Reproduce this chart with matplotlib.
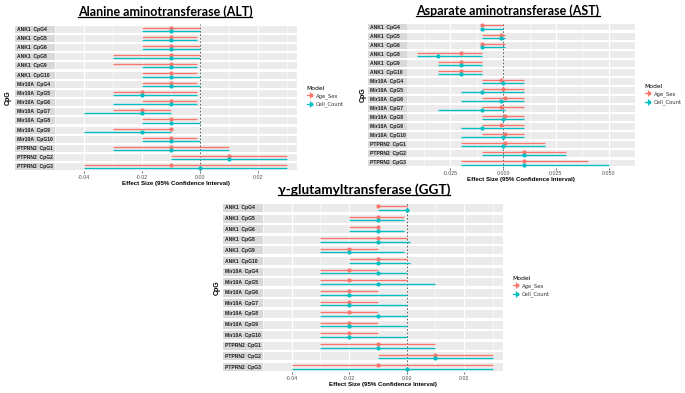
import matplotlib.pyplot as plt
from matplotlib.lines import Line2D
from matplotlib.patches import Rectangle
from matplotlib.legend_handler import HandlerTuple
import numpy as np

# --- datos ---
cpg_labels = ['ANK1  CpG4', 'ANK1  CpG5', 'ANK1  CpG6', 'ANK1  CpG8', 'ANK1  CpG9', 'ANK1  CpG10',
              'Mir10A  CpG4', 'Mir10A  CpG5', 'Mir10A  CpG6', 'Mir10A  CpG7', 'Mir10A  CpG8',
              'Mir10A  CpG9', 'Mir10A  CpG10', 'PTPRN2  CpG1', 'PTPRN2  CpG2', 'PTPRN2  CpG3']
models = ['Age_Sex', 'Cell_Count']

alt_age_est = [-0.01, -0.01, -0.01, -0.01, -0.01, -0.01, -0.01, -0.02, -0.01, -0.02, -0.01, -0.01, -0.01, -0.01, 0.01, -0.01]
alt_age_lo = [-0.02, -0.02, -0.02, -0.03, -0.03, -0.02, -0.02, -0.03, -0.02, -0.03, -0.02, -0.03, -0.02, -0.03, -0.01, -0.04]
alt_age_hi = [0.0, -0.001, 0.0, 0.0, -0.001, -0.001, -0.001, -0.001, -0.001, -0.01, -0.001, -0.01, -0.001, 0.01, 0.03, 0.03]
alt_cell_est = [-0.01, -0.01, -0.01, -0.01, -0.01, -0.01, -0.01, -0.02, -0.01, -0.02, -0.01, -0.02, -0.01, -0.01, 0.01, 0.0]
alt_cell_lo = [-0.02, -0.02, -0.02, -0.03, -0.02, -0.02, -0.02, -0.03, -0.03, -0.04, -0.02, -0.04, -0.02, -0.03, -0.01, -0.04]
alt_cell_hi = [0.0, -0.001, 0.0, 0.0, -0.001, 0.0, 0.0, -0.001, -0.001, -0.01, 0.0, -0.01, 0.0, 0.01, 0.03, 0.03]

ast_age_est = [-0.01, -0.001, -0.01, -0.02, -0.02, -0.02, -0.001, 0.0, 0.001, -0.001, 0.001, -0.001, 0.001, 0.001, 0.01, 0.01]
ast_age_lo = [-0.01, -0.01, -0.01, -0.041, -0.031, -0.031, -0.01, -0.01, -0.01, -0.01, -0.01, -0.01, -0.01, -0.02, -0.01, -0.02]
ast_age_hi = [0.0, 0.001, 0.001, -0.01, -0.01, -0.01, 0.01, 0.01, 0.01, 0.01, 0.01, 0.01, 0.01, 0.02, 0.03, 0.04]
ast_cell_est = [-0.01, -0.001, -0.01, -0.031, -0.02, -0.02, 0.0, -0.01, -0.001, -0.01, 0.0, -0.01, 0.0, 0.0, 0.01, 0.01]
ast_cell_lo = [-0.01, -0.01, -0.01, -0.041, -0.031, -0.031, -0.01, -0.02, -0.02, -0.031, -0.01, -0.02, -0.02, -0.02, -0.01, -0.02]
ast_cell_hi = [0.0, 0.001, 0.001, -0.01, -0.01, -0.01, 0.01, 0.01, 0.01, 0.001, 0.01, 0.01, 0.01, 0.02, 0.03, 0.05]

ggt_age_est = [-0.01, -0.01, -0.01, -0.01, -0.02, -0.01, -0.02, -0.02, -0.02, -0.02, -0.02, -0.02, -0.02, -0.01, 0.01, -0.01]
ggt_age_lo = [-0.01, -0.02, -0.02, -0.03, -0.03, -0.02, -0.03, -0.03, -0.03, -0.03, -0.03, -0.03, -0.03, -0.03, -0.01, -0.04]
ggt_age_hi = [0.0, -0.001, -0.01, 0.0, -0.01, 0.0, -0.01, 0.0, -0.01, -0.01, -0.01, -0.01, -0.01, 0.01, 0.03, 0.03]
ggt_cell_est = [0.0, -0.01, -0.01, -0.01, -0.02, -0.01, -0.01, -0.01, -0.02, -0.02, -0.01, -0.02, -0.02, -0.01, 0.01, 0.0]
ggt_cell_lo = [-0.01, -0.02, -0.02, -0.03, -0.03, -0.02, -0.03, -0.03, -0.03, -0.03, -0.03, -0.03, -0.03, -0.03, -0.01, -0.04]
ggt_cell_hi = [0.0, -0.001, -0.001, 0.001, -0.001, 0.001, 0.0, 0.01, 0.0, 0.0, 0.0, 0.0, 0.0, 0.01, 0.03, 0.03]

alt_ticks = [-0.04, -0.02, 0.0, 0.02]
alt_ticklabels = ['-0.04', '-0.02', '0.00', '0.02']
ast_ticks = [-0.025, 0.0, 0.025, 0.05]
ast_ticklabels = ['-0.025', '0.000', '0.025', '0.050']

RED = '#F8766D'
TEAL = '#00BFC4'
W, H = 685, 393

fig = plt.figure(figsize=(W / 100, H / 100), dpi=100)


def px_box(x0, y0, x1, y1):
    # caja en pixeles (origen arriba-izquierda) -> coordenadas de figura
    return [x0 / W, 1 - y1 / H, (x1 - x0) / W, (y1 - y0) / H]


def draw_panel(title, title_xy, title_size, series, ticks, ticklabels, xlim,
               strip_x, plot_x0, plot_x1, y_top, y_bot, cpg_x, legend_xy):
    n = len(cpg_labels)
    rows = np.arange(n)
    sax = fig.add_axes(px_box(strip_x, y_top, plot_x0, y_bot))
    ax = fig.add_axes(px_box(plot_x0, y_top, plot_x1, y_bot))

    # tiras de etiquetas a la izquierda
    sax.set_xlim(0, 1)
    sax.set_ylim(n - 0.5, -0.5)
    sax.axis('off')
    for i, lab in enumerate(cpg_labels):
        sax.add_patch(Rectangle((0, i - 0.38), 1, 0.76, color='#D9D9D9', lw=0))
        sax.text(0.06, i, lab, fontsize=3.6, weight='bold', color='#1A1A1A',
                 va='center', ha='left', family='Liberation Sans')

    # paneles grises
    ax.set_ylim(n - 0.5, -0.5)
    ax.set_xlim(*xlim)
    for i in rows:
        ax.axhspan(i - 0.38, i + 0.38, color='#EBEBEB', lw=0, zorder=0)
    minor = [(a + b) / 2 for a, b in zip(ticks[:-1], ticks[1:])]
    step = ticks[1] - ticks[0]
    minor = [ticks[0] - step / 2] + minor + [ticks[-1] + step / 2]
    ax.set_xticks(ticks)
    ax.set_xticklabels(ticklabels)
    ax.set_xticks(minor, minor=True)
    ax.set_axisbelow(True)
    ax.grid(which='major', axis='x', color='white', lw=0.8)
    ax.grid(which='minor', axis='x', color='white', lw=0.4)
    ax.set_yticks([])
    for s in ax.spines.values():
        s.set_visible(False)
    ax.tick_params(axis='x', which='major', labelsize=3.8, labelcolor='#4D4D4D',
                   length=1.5, width=0.5, color='#333333', pad=1)
    ax.tick_params(axis='x', which='minor', length=0)
    for t in ax.get_xticklabels():
        t.set_family('Liberation Sans')

    ax.axvline(0, color='#222222', ls=(0, (2.5, 2.5)), lw=0.5, zorder=1.5)

    # intervalos de confianza, Age_Sex arriba y Cell_Count abajo
    for (est, lo, hi), col, off in zip(series, [RED, TEAL], [-0.17, 0.17]):
        ax.hlines(rows + off, lo, hi, color=col, lw=0.95, zorder=2)
        ax.plot(est, rows + off, 'o', ms=2.0, color=col, zorder=3)

    xc = (plot_x0 + plot_x1) / 2
    fig.text(xc / W, 1 - (y_bot + 12) / H, 'Effect Size (95% Confidence Interval)',
             ha='center', va='center', fontsize=4.4, weight='bold', family='Liberation Sans')
    fig.text(cpg_x / W, 1 - ((y_top + y_bot) / 2) / H, 'CpG', rotation=90,
             ha='center', va='center', fontsize=5, weight='bold', family='Liberation Sans')

    # leyenda
    handles = []
    for col in [RED, TEAL]:
        handles.append((Line2D([], [], color=col, lw=0.9),
                        Line2D([], [], color=col, marker='|', ms=5, lw=0, mew=0.9),
                        Line2D([], [], color=col, marker='o', ms=1.8, lw=0)))
    leg = fig.legend(handles, models, title='Model', loc='upper left',
                     bbox_to_anchor=(legend_xy[0] / W, 1 - legend_xy[1] / H),
                     frameon=False, fontsize=3.8, title_fontsize=4.4,
                     handlelength=1.1, handletextpad=0.6, labelspacing=0.5,
                     borderpad=0, alignment='left',
                     handler_map={tuple: HandlerTuple(ndivide=None, pad=0)})
    for t in leg.get_texts():
        t.set_color('#333333')

    tt = fig.text(title_xy[0] / W, 1 - title_xy[1] / H, title, ha='center', va='center',
                  fontsize=title_size, weight='bold', family='Lato')
    return tt


titles = []
titles.append(draw_panel('Alanine aminotransferase (ALT)', (165, 12), 9,
                         [(alt_age_est, alt_age_lo, alt_age_hi), (alt_cell_est, alt_cell_lo, alt_cell_hi)],
                         alt_ticks, alt_ticklabels, (-0.0435, 0.0335),
                         15, 55, 297, 24.5, 171.5, 8, (304, 83)))
titles.append(draw_panel('Asparate aminotransferase (AST)', (508, 11), 9,
                         [(ast_age_est, ast_age_lo, ast_age_hi), (ast_cell_est, ast_cell_lo, ast_cell_hi)],
                         ast_ticks, ast_ticklabels, (-0.0456, 0.0546),
                         368, 407, 635, 22.5, 167.5, 363, (642, 81)))
titles.append(draw_panel('γ-glutamyltransferase (GGT)', (364, 190), 9.8,
                         [(ggt_age_est, ggt_age_lo, ggt_age_hi), (ggt_cell_est, ggt_cell_lo, ggt_cell_hi)],
                         alt_ticks, alt_ticklabels, (-0.0435, 0.0335),
                         223, 263, 503, 202.7, 372.3, 217, (510, 273)))

# subrayado de los titulos
fig.canvas.draw()
for tt in titles:
    bb = tt.get_window_extent()
    y = (bb.y0 + 1) / H
    fig.add_artist(Line2D([bb.x0 / W, bb.x1 / W], [y, y], color='black', lw=0.9,
                          transform=fig.transFigure))

fig.savefig('out.png', dpi=100)
